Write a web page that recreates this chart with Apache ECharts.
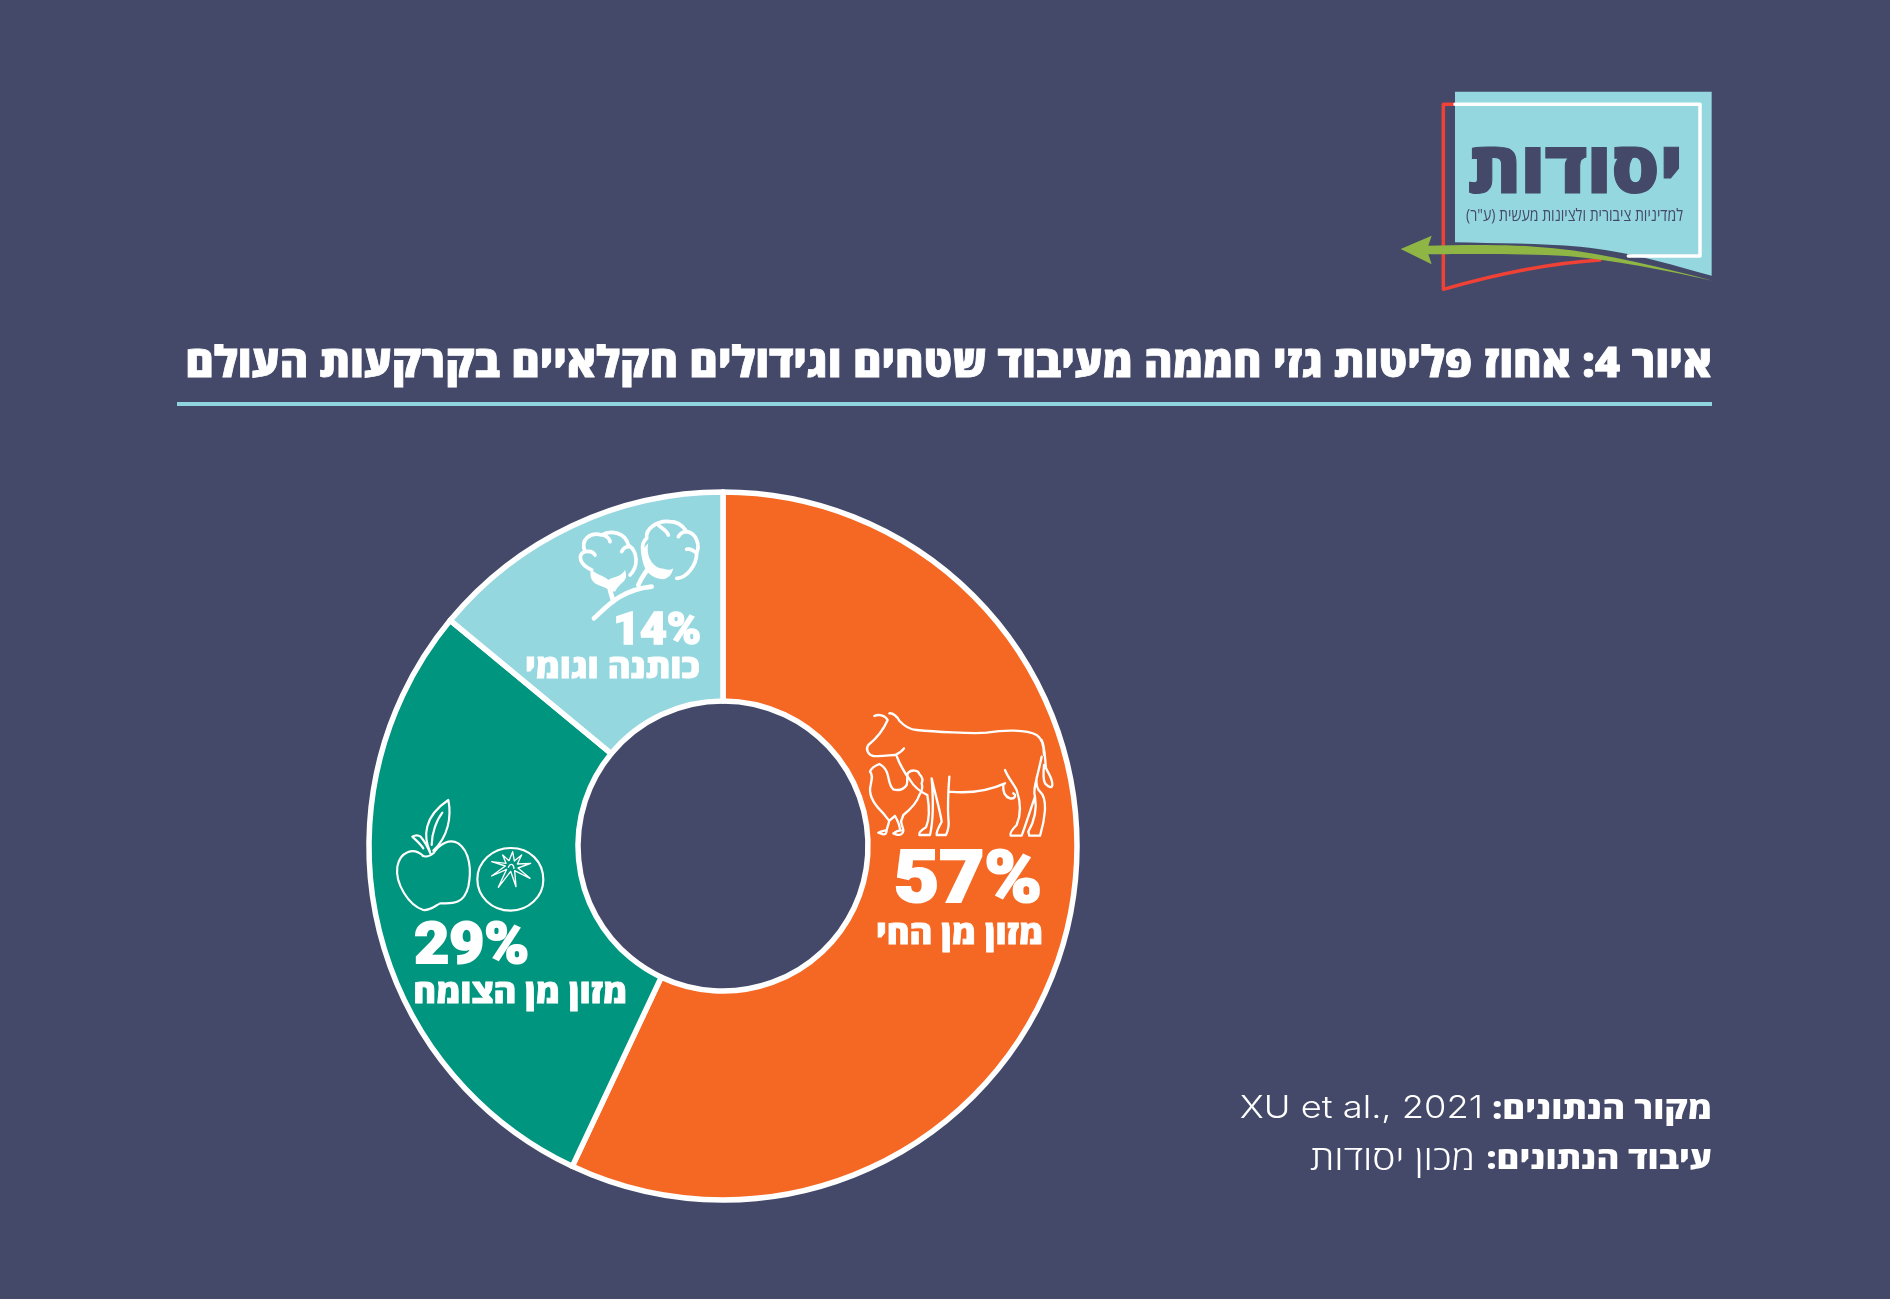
<!DOCTYPE html>
<html>
<head>
<meta charset="utf-8">
<style>html,body{margin:0;padding:0;background:#444969}#main{width:1890px;height:1299px}</style>
<script src="https://cdn.jsdelivr.net/npm/echarts@6/dist/echarts.min.js"></script>
</head>
<body>
<div id="main"></div>
<script>
// data
var categories = ['מזון מן החי', 'מזון מן הצומח', 'כותנה וגומי'];
var values = [57, 29, 14];
var sliceColors = ['#f56823', '#00957e', '#94d7df'];

var titleText = 'איור 4: אחוז פליטות גזי חממה מעיבוד שטחים וגידולים חקלאיים בקרקעות העולם';
var logoName = 'יסודות';
var logoSub = 'למדיניות ציבורית ולציונות מעשית (ע"ר)';
var sourceLabel = 'מקור הנתונים:';
var sourceValue = 'XU et al., 2021';
var processLabel = 'עיבוד הנתונים:';
var processValue = 'מכון יסודות';

var bg = '#444969';
var hebFont = '"Open Sans","Liberation Sans","DejaVu Sans",sans-serif';
var numFont = 'Roboto,"Open Sans",sans-serif';
var RLM = '\u200f';

// icons, traced in the 3x zoom coordinates
var icons = {
    cow: 'M103 78C115 72 135 75 143 90M148 70C158 68 172 80 178 92C190 105 205 118 230 120C280 125 400 132 440 128C490 120 560 118 590 135C605 145 612 170 612 195' +
        'M143 90C130 120 110 145 85 165C75 178 85 195 100 198C130 200 150 195 165 195C178 190 185 185 192 175' +
        'M170 198C180 225 195 250 210 270C225 295 240 305 262 315C268 350 268 390 258 412C245 420 235 428 238 435L270 435C278 400 282 350 275 265' +
        'M275 265C285 310 300 360 305 395C295 415 288 425 290 435L318 435C325 420 328 405 325 385C322 340 325 300 328 260' +
        'M328 305C380 310 440 305 495 280M495 240C505 265 520 280 530 300M490 285C488 305 495 320 510 325C525 328 530 315 520 310' +
        'M530 300C540 330 545 370 530 405C515 420 508 430 512 437L545 437C555 410 568 370 585 320C578 300 590 270 605 200' +
        'M585 320C590 350 585 390 565 425L568 437L600 437C605 420 612 400 615 360C616 330 612 315 600 305C590 295 588 280 590 262' +
        'M605 150C615 170 615 210 618 235C625 250 638 265 637 285C635 297 625 290 615 280C608 265 610 245 612 225',
    chicken: 'M90 245C95 232 110 225 118 222C130 228 135 235 140 245C148 262 145 285 160 298C175 302 190 300 200 285C205 270 198 255 205 248C215 238 235 240 238 252C248 262 250 270 245 280C250 295 245 305 238 315C232 335 215 355 190 375L183 395L190 420' +
        'M90 245C100 255 95 270 92 285C85 310 100 340 125 365C138 378 140 385 148 392L140 420' +
        'M115 428C125 422 135 422 140 420C140 430 138 433 130 433ZM160 430C170 422 180 420 190 422C190 432 180 436 170 434Z' +
        'M165 378L148 392M165 378C172 390 180 410 180 422',
    apple: 'M130 228C100 200 60 215 52 260C45 310 85 375 130 390C150 392 165 378 180 370C210 370 250 378 265 320C275 270 270 215 235 190C210 175 180 190 160 220C150 230 135 230 128 228' +
        'M130 205C120 190 105 178 97 170C105 165 115 165 122 170C135 185 145 205 152 222' +
        'M150 215C130 170 130 110 205 60C215 110 205 170 160 212M155 195C155 160 170 120 187 98',
    tomato: 'M392 204C450 204 490 245 490 300C490 350 445 392 392 392C335 392 292 350 292 298C292 245 338 204 392 204Z',
    tomatoStar: 'M368 225L387 242L398 215L403 243L425 225L412 252L452 250L414 264L450 295L404 272L408 320L392 274L355 322L380 268L335 288L376 258L335 245L378 250Z' +
        'M385 262C390 250 400 250 402 265',
    cotton: 'M245 210C210 195 200 165 225 155C210 120 240 95 275 105C300 90 345 95 355 135C385 155 385 200 360 225' +
        'M280 105C295 110 300 120 300 125M355 140C345 140 340 145 335 155M225 155C240 152 250 155 255 165' +
        'M420 205C395 175 390 130 410 115C405 85 445 60 480 65C515 65 525 90 530 95C560 100 570 135 560 160C560 195 530 235 500 235' +
        'M445 75C455 85 470 90 475 105M530 95C518 95 510 102 505 110M560 160C550 150 540 145 530 148',
    cottonCup: 'M243 205C255 225 280 225 295 240C305 230 330 235 345 210C350 225 350 235 340 245C325 258 320 265 315 275L295 270C285 258 265 260 250 245C240 235 240 220 243 205Z' +
        'M415 130C408 160 420 195 450 205C465 205 475 215 490 205C485 225 475 235 460 238C430 235 400 220 395 165C395 150 405 140 415 130Z',
    cottonStem: 'M252 355C290 320 330 270 425 260M300 270L310 305M385 255C395 230 405 220 415 205',
    logoPanel: 'M225 65L995 65L995 617C860 580 750 545 600 530C480 520 350 520 225 517Z',
    logoArrow: 'M62 537L155 497L145 527C250 525 400 522 520 535C680 550 850 595 998 632C850 600 700 570 560 558C420 550 250 552 145 553L155 583Z',
    logoRed: 'M225 103L190 103L190 658C340 615 500 580 660 570',
    logoWhite: 'M225 103L960 103L960 558L745 558'
};
Object.keys(icons).forEach(function (k) {
    echarts.graphic.registerShape(k, echarts.graphic.extendPath(icons[k]));
});

function txt(s, x, y, size, weight, color, sx, stroke, font) {
    return {
        type: 'text', x: x, y: y, scaleX: sx || 1, z: 10, silent: true,
        style: {
            text: s + RLM, fill: color, align: 'right', verticalAlign: 'middle',
            fontFamily: font || hebFont, fontSize: size, fontWeight: weight,
            stroke: stroke ? color : null, lineWidth: stroke || 0
        }
    };
}
function line(name, ox, oy, lw, color) {
    return {
        type: name, x: ox, y: oy, scaleX: 1 / 3, scaleY: 1 / 3, z: 10, silent: true,
        style: { fill: 'none', stroke: color || '#fff', lineWidth: lw, lineCap: 'round', lineJoin: 'round' }
    };
}
function solid(name, ox, oy, color) {
    return {
        type: name, x: ox, y: oy, scaleX: 1 / 3, scaleY: 1 / 3, z: 10, silent: true,
        style: { fill: color || '#fff', stroke: 'none' }
    };
}

var option = {
    backgroundColor: bg,
    animation: false,
    tooltip: { show: false },
    series: [{
        name: 'פליטות',
        type: 'pie',
        silent: true,
        center: [723, 846],
        radius: [145, 354],
        startAngle: 90,
        clockwise: true,
        label: { show: false },
        labelLine: { show: false },
        itemStyle: { borderColor: '#fff', borderWidth: 5.5 },
        data: categories.map(function (c, i) {
            return { name: c, value: values[i], itemStyle: { color: sliceColors[i] } };
        })
    }],
    graphic: {
        elements: [
            solid('logoPanel', 1380, 70, '#94d7df'),
            line('logoRed', 1380, 70, 10.5, '#ef4136'),
            line('logoWhite', 1380, 70, 10.5, '#fff'),
            solid('logoArrow', 1380, 70, '#8fb645'),
            txt(logoName, 1683, 172, 72, 800, bg, 1.05, 1),
            txt(logoSub, 1683, 216, 17, 400, bg, 0.83),

            txt(titleText, 1712, 365, 43, 800, '#fff', 1.01, 0.8),
            { type: 'rect', z: 10, shape: { x: 177, y: 402, width: 1535, height: 4 }, style: { fill: '#8fd6e0' } },

            line('cow', 840, 690, 7),
            line('chicken', 840, 690, 7),
            line('apple', 380, 780, 6.5),
            line('tomato', 380, 780, 6.5),
            line('tomatoStar', 380, 780, 4),
            line('cotton', 510, 500, 11),
            solid('cottonCup', 510, 500),
            line('cottonStem', 510, 500, 14),

            txt(values[0] + '%', 1042, 884, 72, 900, '#fff', 1.08, 2.2, numFont),
            txt(categories[0], 1043, 935, 33, 800, '#fff', 1.05, 0.8),
            txt(values[1] + '%', 529, 948, 58, 900, '#fff', 1.04, 2, numFont),
            txt(categories[1], 627, 994, 33, 800, '#fff', 1.05, 0.8),
            txt(values[2] + '%', 701, 633, 44, 900, '#fff', 1.05, 1.6, numFont),
            txt(categories[2], 700, 669, 33, 800, '#fff', 1.05, 0.8),

            txt(sourceLabel, 1712, 1110, 31, 800, '#fff', 1.12),
            txt(sourceValue, 1483, 1109, 31, 300, '#fff', 1.17, 0, 'Inter,"Open Sans",sans-serif'),
            txt(processLabel, 1712, 1160, 31, 800, '#fff', 1.12),
            txt(processValue, 1475, 1160, 34, 300, '#fff', 1.15)
        ]
    }
};

var myChart = echarts.init(document.getElementById('main'));
myChart.setOption(option);
</script>
</body>
</html>
